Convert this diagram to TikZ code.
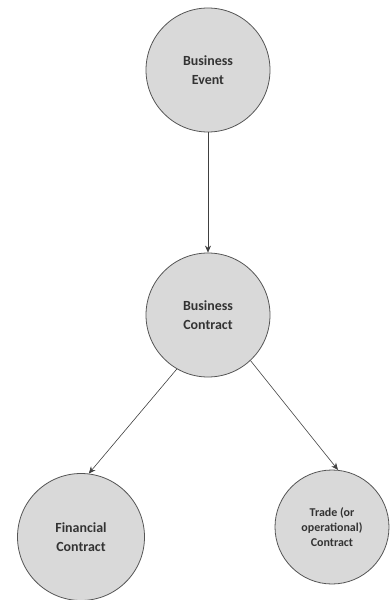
\documentclass[tikz,border=0pt]{standalone}
\usepackage{fontspec}
\setmainfont{Carlito}
\usetikzlibrary{arrows.meta}
\definecolor{cfill}{HTML}{D9D9D9}
\definecolor{cedge}{HTML}{555555}
\begin{document}
\begin{tikzpicture}[x=1bp,y=-1bp,
  ent/.style={circle,draw=cedge,line width=0.8bp,fill=cfill,align=center,inner sep=0pt,font=\bfseries\fontsize{14}{19.5}\selectfont,text=black!80},
  small/.style={font=\bfseries\fontsize{12}{15}\selectfont},
  conn/.style={draw=black!75,line width=0.6bp,-{Stealth[length=7bp,width=6bp]}}]
\useasboundingbox (0,0) rectangle (390,600);
\node[ent,minimum size=124bp] (be) at (208,70) {Business\\Event};
\node[ent,minimum size=124bp] (bc) at (208,315) {Business\\Contract};
\node[ent,minimum size=127bp] (fc) at (81,537) {Financial\\Contract};
\node[ent,small,minimum size=114bp] (tc) at (332,527) {Trade (or\\operational)\\Contract};
\draw[conn] (be) -- (bc);
\draw[conn] (bc.240) -- (fc.83);
\draw[conn] (bc.313) -- (tc.84);
\end{tikzpicture}
\end{document}
